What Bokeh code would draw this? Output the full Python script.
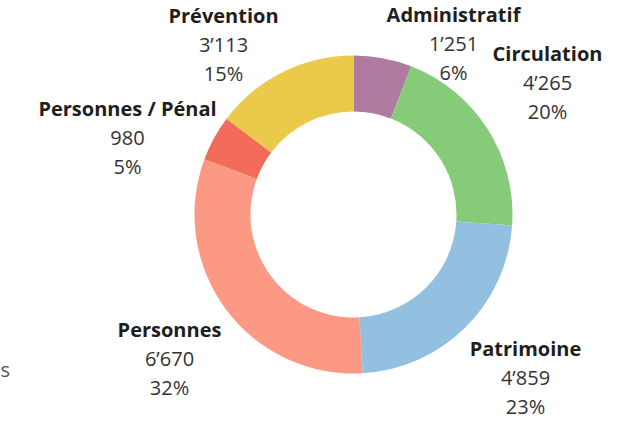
import math
from bokeh.plotting import figure
from bokeh.models import Range1d, ColumnDataSource
from bokeh.core.properties import value
from bokeh.embed import file_html
from bokeh.resources import INLINE

# data (clockwise from 12 o'clock)
categories = ["Administratif", "Circulation", "Patrimoine", "Personnes", "Personnes / Pénal", "Prévention"]
counts = [1251, 4265, 4859, 6670, 980, 3113]
colors = ["#B07BA0", "#86CB7A", "#93C0E0", "#FC9985", "#F36C5A", "#EBC94A"]

# label anchor positions (image px: centre x, baseline of first line)
label_x = [453, 547, 525, 169, 127, 223]
label_y = [28, 67, 362, 343, 122, 29]

total = sum(counts)
starts, ends = [], []
cum = 0
for c in counts:
    starts.append(math.pi / 2 - 2 * math.pi * cum / total)
    cum += c
    ends.append(math.pi / 2 - 2 * math.pi * cum / total)

def fmt(n):
    return f"{n:,}".replace(",", "\u2019")

pcts = [f"{round(100 * c / total)}%" for c in counts]
vals = [fmt(c) for c in counts]

W, H = 627, 419
p = figure(width=W, height=H, output_backend="svg", toolbar_location=None,
           x_range=Range1d(0, W), y_range=Range1d(1, 1 + H),
           min_border=0, outline_line_color=None)
p.axis.visible = False
p.grid.visible = False
p.background_fill_color = "white"

cx, cy = 353, 427 - 221
src = ColumnDataSource(dict(start=starts, end=ends, color=colors))
p.annular_wedge(x=cx, y=cy, inner_radius=103, outer_radius=159,
                start_angle="start", end_angle="end", direction="clock",
                fill_color="color", line_color=None, source=src)

adj = 7  # compensate rendered baseline offset
ty = [427 - y + adj for y in label_y]
lsrc = ColumnDataSource(dict(x=label_x, y1=ty, y2=[y - 29 for y in ty], y3=[y - 58 for y in ty],
                             cat=categories, val=vals, pct=pcts))
common = dict(source=lsrc, text_align="center", text_baseline="alphabetic",
              text_font=value("Open Sans"), text_font_size="20px")
p.text(x="x", y="y1", text="cat", text_font_style="bold", text_color="#1e1e1e", **common)
p.text(x="x", y="y2", text="val", text_color="#333333", **common)
p.text(x="x", y="y3", text="pct", text_color="#333333", **common)

# legend remnant at the left edge
p.text(x=[0], y=[427 - 383 + adj], text=["s"], text_align="left", text_baseline="alphabetic",
       text_font=value("Open Sans"), text_font_size="20px", text_color="#555555")

open("out.html", "w").write(file_html(p, INLINE))
